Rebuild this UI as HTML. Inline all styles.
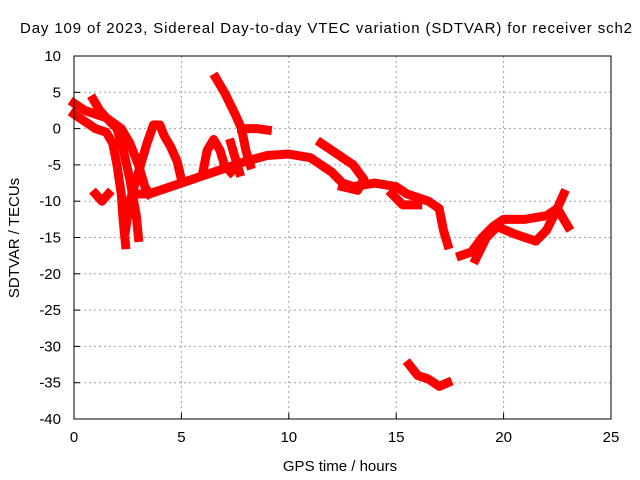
<!DOCTYPE html>
<html><head><meta charset="utf-8"><style>
body{margin:0;background:#fff;}
svg{display:block;font-family:"Liberation Sans",sans-serif;}
</style></head><body>
<svg id="chart" width="640" height="480" viewBox="0 0 640 480">
<rect width="640" height="480" fill="#fff"/>
<text x="20" y="33" font-size="15" textLength="612" lengthAdjust="spacing" fill="#000">Day 109 of 2023, Sidereal Day-to-day VTEC variation (SDTVAR) for receiver sch2</text>
<g id="grid"></g>
<g id="marks"></g>
<rect x="74" y="56" width="537" height="363" fill="none" stroke="#000" stroke-width="1"/>
<g id="axes"></g>
<text x="340" y="471" font-size="15" text-anchor="middle">GPS time / hours</text>
<text transform="translate(19,238) rotate(-90)" font-size="15" text-anchor="middle">SDTVAR / TECUs</text>
</svg>
<script>
const xTicks=[0,5,10,15,20,25];
const yTicks=[10,5,0,-5,-10,-15,-20,-25,-30,-35,-40];
const track1=[[0,3.5],[0.5,2.5],[1,2],[1.5,1.5],[2,0],[2.3,-3],[2.6,-7],[2.9,-12],[3.0,-15]];
const track2=[[0,2],[0.5,1],[1,0],[1.5,-0.5],[1.8,-2],[2,-5],[2.2,-9],[2.3,-13],[2.4,-16]];
const track3=[[0.9,4],[1.2,2.5],[1.5,1.5],[2.2,0],[2.6,-2],[3,-5],[3.3,-8],[3.5,-9]];
const track4=[[2.4,-14],[2.6,-10],[3,-6],[3.4,-2],[3.7,0.5],[4,0.5],[4.2,-1],[4.5,-2.5],[4.8,-4.5],[5,-7]];
const track5=[[1,-9],[1.3,-10],[1.6,-9]];
const track6=[[3,-9],[3.5,-9],[4,-8.5],[5,-7.5],[6,-6.5],[7,-5.5],[8,-4.5],[9,-3.7],[10,-3.5],[11,-4],[11.5,-5],[12,-6],[12.5,-7.5],[13,-8],[14,-7.5],[15,-8],[15.5,-9],[16,-9.5],[16.5,-10],[17,-11],[17.2,-14],[17.4,-16]];
const track7=[[6.6,7],[7,5],[7.5,2],[7.8,0],[8,-3],[8.2,-5]];
const track8=[[7.8,0],[8.5,0],[9,-0.2]];
const track9=[[6,-6],[6.2,-3],[6.5,-1.5],[6.8,-3],[7,-5],[7.3,-6]];
const track10=[[7.3,-2],[7.5,-4],[7.7,-6]];
const track11=[[11.5,-2],[12,-3],[13,-5],[13.5,-7],[13.2,-8.5],[12.5,-8]];
const track12=[[15.6,-32.5],[16,-34],[16.5,-34.5],[17,-35.5],[17.4,-35]];
const track13=[[18,-17.5],[18.5,-17],[19,-15],[19.5,-13.5],[20,-12.5],[21,-12.5],[22,-12],[22.5,-11],[23,-13.5]];
const track14=[[18.7,-18],[19.2,-15],[19.7,-13.5],[20.5,-14.5],[21.5,-15.5],[22,-14],[22.5,-11],[22.8,-9]];
const track15=[[14.8,-9],[15.3,-10.5],[16,-10.5]];
const tracks=[track1,track2,track3,track4,track5,track6,track7,track8,track9,track10,track11,track12,track13,track14,track15];

const X0=74,X1=611,Y0=56,Y1=419;
const xs=t=>X0+(t-0)/25*(X1-X0);
const ys=v=>Y0+(10-v)/50*(Y1-Y0);
const NS='http://www.w3.org/2000/svg';
const grid=document.getElementById('grid'),axes=document.getElementById('axes'),marks=document.getElementById('marks');
function mk(tag,attrs,parent){const e=document.createElementNS(NS,tag);for(const k in attrs)e.setAttribute(k,attrs[k]);parent.appendChild(e);return e;}
xTicks.forEach(t=>{
  const x=xs(t);
  if(t>0&&t<25){const g=mk('line',{x1:x,x2:x,y1:Y0,y2:Y1,stroke:'#a0a0a0','stroke-dasharray':'2,3'},grid);
  
  }
  const tk=mk('line',{x1:x,x2:x,y1:Y1,y2:Y1-6,stroke:'#000'},axes);
  
  
  const tx=mk('text',{x:x,y:Y1+23,'font-size':15,'text-anchor':'middle'},axes);tx.textContent=t;
  
  
});
yTicks.forEach(v=>{
  const y=ys(v);
  if(v<10&&v>-40){const g=mk('line',{x1:X0,x2:X1,y1:y,y2:y,stroke:'#a0a0a0','stroke-dasharray':'2,3'},grid);
  
  }
  const tk=mk('line',{x1:X0,x2:X0+6,y1:y,y2:y,stroke:'#000'},axes);
  
  
  const tx=mk('text',{x:X0-13,y:y+5,'font-size':15,'text-anchor':'end'},axes);tx.textContent=v;
  
  
});
tracks.forEach((tr,i)=>{
  const p=mk('polyline',{points:tr.map(d=>xs(d[0])+','+ys(d[1])).join(' '),fill:'none',stroke:'#ff0000','stroke-width':9,'stroke-linejoin':'round','stroke-linecap':'square'},marks);
  
  
});
</script>
</body></html>
